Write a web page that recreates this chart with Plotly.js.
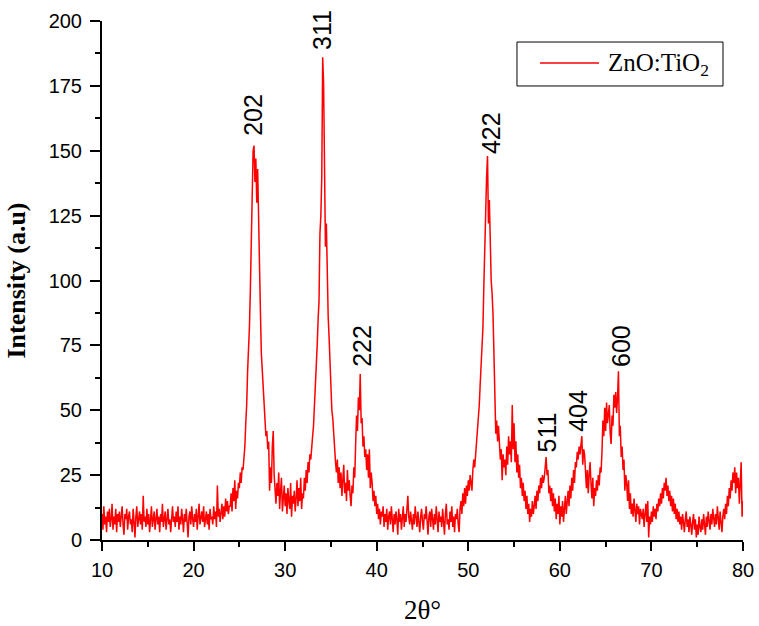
<!DOCTYPE html>
<html>
<head>
<meta charset="utf-8">
<script src="https://cdn.plot.ly/plotly-3.0.1.min.js"></script>
<style>
html,body{margin:0;padding:0;background:#fff;}
#chart{width:759px;height:626px;}
</style>
</head>
<body>
<div id="chart"></div>
<script>
// XRD pattern of ZnO:TiO2, intensity every 0.1 degree (2theta from 10 to 80)
const startDeg = 10;
const stepDeg = 0.1;

const int10to20 = [
  10,4,13,6,9,3,11,7,12,5,
  8,14,4,9,6,12,3,10,7,11,
  5,9,13,6,2,10,8,12,4,9,
  11,6,8,3,12,7,1,9,13,5,
  8,11,6,10,4,17,7,9,5,12,
  6,10,3,8,13,5,9,11,4,8,
  12,6,9,3,10,7,14,5,8,11,
  4,9,12,6,8,3,10,13,7,9,
  5,11,7,13,4,9,6,12,8,3,
  10,7,12,5,1,9,11,6,13,8
];
const int20to30 = [
  5,10,7,12,4,9,14,6,8,11,
  7,13,5,9,11,6,10,4,12,8,
  9,6,13,8,11,5,21,9,12,7,
  10,14,8,13,9,16,11,15,10,13,
  13,18,11,20,15,23,12,19,16,22,
  20,26,22,28,27,31,36,45,52,65,
  72,82,96,115,135,150,152,138,147,130,
  143,120,103,88,72,65,58,50,46,40,
  42,35,38,19,28,22,36,42,25,18,
  14,22,17,26,12,19,24,11,16,21
];
const int30to40 = [
  13,18,10,20,15,12,22,9,17,14,
  19,11,16,23,13,20,15,24,12,18,
  16,24,19,27,22,30,26,33,31,37,
  40,44,52,60,62,75,85,92,118,125,
  140,186,176,150,113,122,101,86,78,67,
  58,50,47,40,35,30,26,31,22,28,
  20,26,17,24,29,18,22,15,27,19,
  23,17,13,21,18,28,24,37,48,42,
  55,50,64,45,47,36,40,32,35,27,
  33,24,35,20,26,22,15,19,13,17
];
const int40to50 = [
  10,14,8,12,6,11,9,13,5,10,
  7,12,4,9,11,6,13,8,3,10,
  6,11,8,2,12,7,10,4,9,13,
  5,10,7,12,17,9,6,11,8,4,
  10,6,13,8,5,11,7,3,9,12,
  7,4,10,8,13,6,2,9,11,5,
  12,8,4,10,6,13,9,3,11,7,
  9,5,12,7,2,10,14,6,8,4,
  11,7,13,5,9,3,10,8,12,6,
  3,12,15,10,18,13,20,14,21,17
];
const int50to60 = [
  23,19,25,22,19,27,31,28,33,36,
  40,45,52,60,66,75,82,98,115,128,
  140,148,122,131,109,100,95,87,72,60,
  41,46,38,44,39,31,35,23,33,28,
  31,25,36,29,40,33,38,30,52,35,
  45,30,38,26,33,24,29,20,24,17,
  22,15,19,12,17,10,14,7,12,9,
  15,10,13,17,12,19,15,21,18,24,
  20,25,22,24,28,32,25,27,18,21,
  15,20,13,18,11,16,8,14,10,17
];
const int60to70 = [
  6,13,9,15,7,12,17,10,14,19,
  13,21,16,24,19,27,22,30,28,34,
  31,36,33,38,40,29,35,33,24,20,
  27,18,25,30,22,16,24,13,20,17,
  23,19,25,21,28,26,34,46,40,51,
  42,53,45,49,52,41,37,48,44,56,
  51,57,49,55,65,40,44,32,36,27,
  31,19,25,22,15,23,12,18,10,14,
  9,16,11,7,14,10,13,6,12,9,
  8,12,5,10,14,7,15,1,9,6
];
const int70to80 = [
  11,7,13,9,12,8,14,11,16,13,
  18,14,20,16,22,19,24,17,21,15,
  19,13,17,11,16,10,14,8,12,7,
  11,6,9,4,10,7,3,8,11,5,
  8,3,9,6,2,7,10,4,8,1,
  6,2,9,5,3,8,4,10,6,2,
  9,5,11,7,4,10,6,12,8,5,
  10,6,13,8,4,11,7,3,9,12,
  8,14,10,17,13,20,16,23,19,26,
  22,28,18,26,20,24,14,22,30,9,
  15
];

const intensity = [].concat(int10to20, int20to30, int30to40, int40to50, int50to60, int60to70, int70to80);
const twoTheta = intensity.map((_, i) => +(startDeg + i * stepDeg).toFixed(1));

const peakLabels = ['202', '311', '222', '422', '511', '404', '600'];
const peakAngles = [26.5, 34.0, 38.4, 52.5, 58.6, 61.9, 66.7];
const peakHeights = [155, 188, 66, 148, 33, 41, 66];

const seriesName = 'ZnO:TiO<sub>2</sub>';
const xTitle = '2θ°';
const yTitle = 'Intensity (a.u)';

const sans = 'Liberation Sans, Arial, sans-serif';
const serif = 'Liberation Serif, Times New Roman, serif';
const lineRed = '#ff0000';

const trace = {
  x: twoTheta,
  y: intensity,
  type: 'scatter',
  mode: 'lines',
  name: seriesName,
  showlegend: false,
  line: {color: lineRed, width: 1.5},
  cliponaxis: true
};

const annotations = peakLabels.map((t, i) => ({
  x: peakAngles[i],
  y: peakHeights[i],
  xref: 'x', yref: 'y',
  text: t,
  showarrow: false,
  textangle: -90,
  xanchor: 'center',
  yanchor: 'bottom',
  font: {family: sans, size: 25, color: '#000'}
}));

// legend drawn as a framed box with a line sample and the series name
annotations.push({
  x: 0.786, y: 0.917, xref: 'paper', yref: 'paper',
  text: seriesName, showarrow: false,
  xanchor: 'left', yanchor: 'middle',
  font: {family: serif, size: 25, color: '#000'}
});

const shapes = [
  {type: 'rect', xref: 'paper', yref: 'paper', x0: 0.6474, x1: 0.9688, y0: 0.8748, y1: 0.9595,
   line: {color: '#000', width: 1}, fillcolor: '#fff', layer: 'above'},
  {type: 'line', xref: 'paper', yref: 'paper', x0: 0.6833, x1: 0.7754, y0: 0.919, y1: 0.919,
   line: {color: lineRed, width: 1.5}, layer: 'above'}
];

const layout = {
  width: 759,
  height: 626,
  margin: {l: 102, r: 16, t: 21, b: 86},
  paper_bgcolor: '#fff',
  plot_bgcolor: '#fff',
  showlegend: false,
  xaxis: {
    range: [10, 80],
    tickmode: 'linear', tick0: 10, dtick: 10,
    ticks: 'outside', ticklen: 9, tickwidth: 2, tickcolor: '#000',
    minor: {dtick: 5, ticks: 'outside', ticklen: 5, tickwidth: 2, tickcolor: '#000'},
    showline: true, linecolor: '#000', linewidth: 2,
    showgrid: false, zeroline: false,
    tickfont: {family: sans, size: 20, color: '#000'},
    ticklabelstandoff: 2,
    title: {text: xTitle, font: {family: serif, size: 27, color: '#000'}, standoff: 20},
    automargin: false
  },
  yaxis: {
    range: [0, 200],
    tickmode: 'linear', tick0: 0, dtick: 25,
    ticks: 'outside', ticklen: 10, tickwidth: 2, tickcolor: '#000',
    minor: {dtick: 12.5, ticks: 'outside', ticklen: 5, tickwidth: 2, tickcolor: '#000'},
    showline: true, linecolor: '#000', linewidth: 2,
    showgrid: false, zeroline: false,
    tickfont: {family: sans, size: 20, color: '#000'},
    ticklabelstandoff: 4,
    title: {text: '<b>' + yTitle + '</b>', font: {family: serif, size: 26, color: '#000'}, standoff: 16},
    automargin: false
  },
  shapes: shapes,
  annotations: annotations
};

Plotly.newPlot('chart', [trace], layout, {displayModeBar: false, staticPlot: true});
</script>
</body>
</html>
